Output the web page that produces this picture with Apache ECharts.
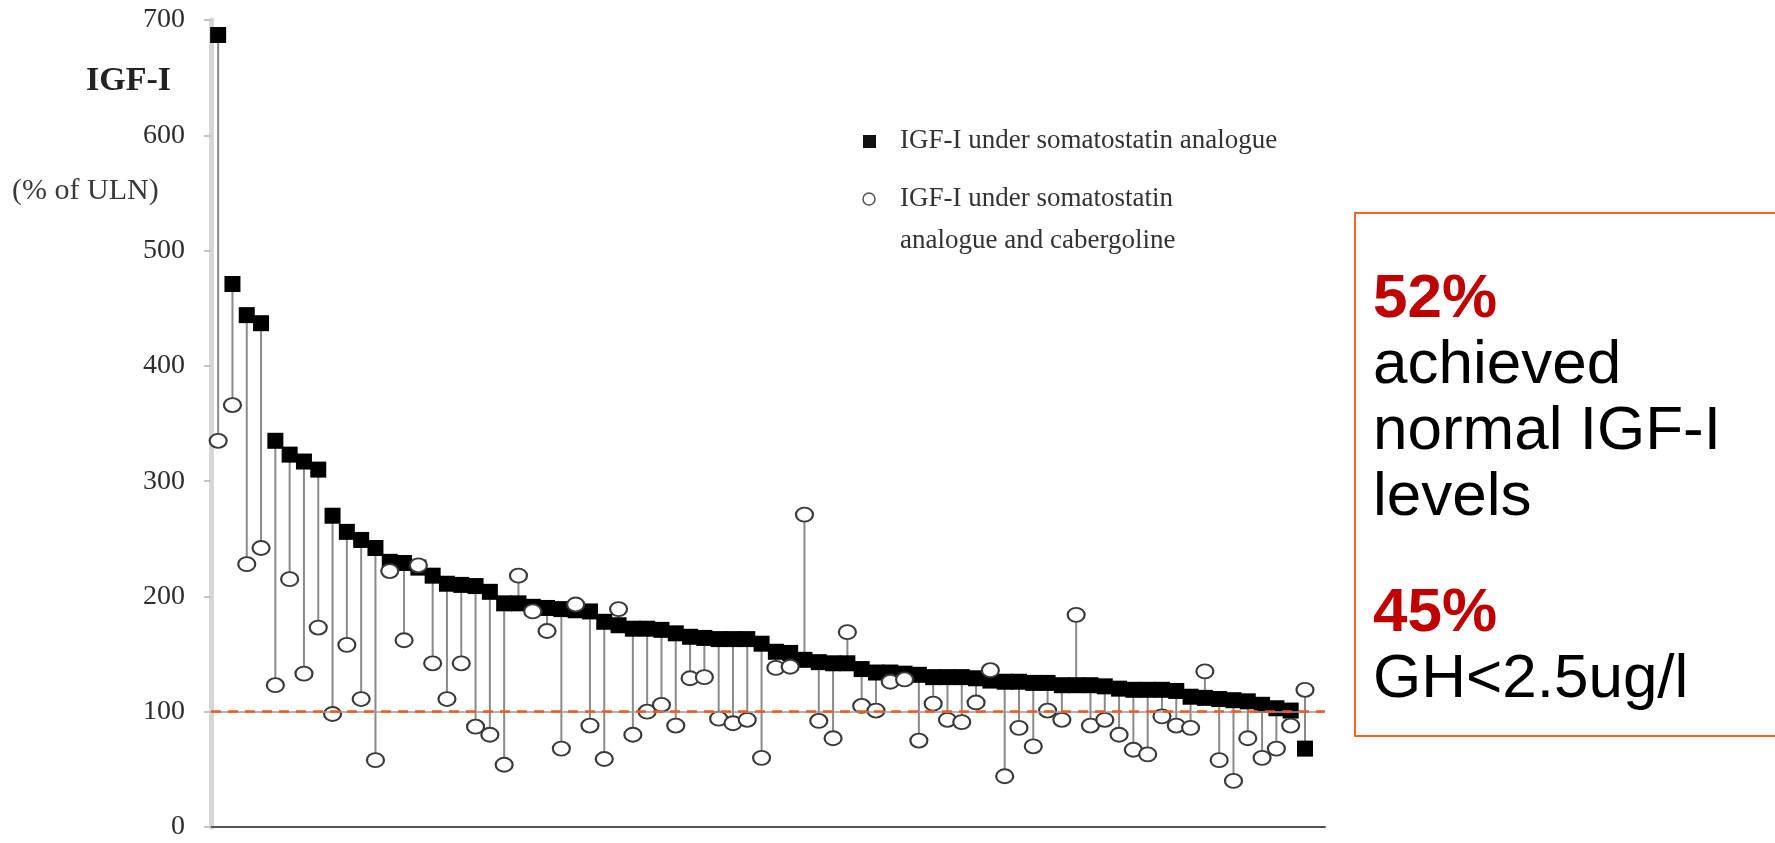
<!DOCTYPE html>
<html>
<head>
<meta charset="utf-8">
<script src="https://cdn.jsdelivr.net/npm/echarts@6/dist/echarts.min.js"></script>
<style>
  html, body { margin: 0; padding: 0; background: #fff; }
  #chart { width: 1775px; height: 843px; }
</style>
</head>
<body>
<div id="chart"></div>
<script>
// one entry per patient, sorted by IGF-I under somatostatin analogue
var patients = [];
for (var n = 1; n <= 77; n++) patients.push(n);

// IGF-I under somatostatin analogue (% of ULN)
var igfSSA = [
  687, 471, 444, 437, 335, 323, 317, 310, 270, 256,
  249, 242, 230, 229, 225, 218, 211, 210, 209, 204,
  194, 194, 191, 190, 189, 188, 187, 178, 175, 172,
  172, 171, 168, 165, 164, 163, 163, 163, 159, 152,
  151, 145, 143, 142, 142, 137, 134, 134, 133, 132,
  130, 130, 130, 129, 127, 126, 126, 125, 125, 123,
  123, 123, 122, 120, 119, 119, 119, 118, 113, 112,
  111, 110, 109, 106, 103, 101, 68
];

// IGF-I under somatostatin analogue and cabergoline (% of ULN)
var igfCab = [
  335, 366, 228, 242, 123, 215, 133, 173, 98, 158,
  111, 58, 222, 162, 227, 142, 111, 142, 87, 80,
  54, 218, 187, 170, 68, 193, 88, 59, 189, 80,
  100, 106, 88, 129, 130, 94, 90, 93, 60, 138,
  139, 271, 92, 77, 169, 105, 101, 126, 128, 75,
  107, 93, 91, 108, 136, 44, 86, 70, 101, 93,
  184, 88, 93, 80, 67, 63, 96, 88, 86, 135,
  58, 40, 77, 60, 68, 88, 119
];

var yTicks = [0, 100, 200, 300, 400, 500, 600, 700];
var ulnLimit = 100;

var chart = echarts.init(document.getElementById('chart'));

var stems = patients.map(function (p, i) { return [p, igfSSA[i], igfCab[i]]; });
var ssaPoints = patients.map(function (p, i) { return [p, igfSSA[i]]; });
var cabPoints = patients.map(function (p, i) { return [p, igfCab[i]]; });

var serif = '"Liberation Serif", "Times New Roman", serif';
var sans = '"Liberation Sans", Arial, sans-serif';

var option = {
  animation: false,
  backgroundColor: '#fff',
  grid: { left: 211, right: 450, top: 20, bottom: 16 },
  xAxis: {
    type: 'value',
    min: 0.5,
    max: 78.4,
    axisLine: { show: true, lineStyle: { color: '#555', width: 2 } },
    axisTick: { show: false },
    axisLabel: { show: false },
    splitLine: { show: false }
  },
  yAxis: {
    type: 'value',
    min: yTicks[0],
    max: yTicks[yTicks.length - 1],
    interval: 100,
    axisLine: { show: true, lineStyle: { color: '#d6d6d6', width: 5 } },
    axisTick: { show: true, length: 7, lineStyle: { color: '#c4c4c4', width: 2 } },
    axisLabel: { fontFamily: serif, fontSize: 28, color: '#2e2e2e', margin: 26 },
    splitLine: { show: false }
  },
  series: [
    {
      name: 'change',
      type: 'custom',
      z: 2,
      data: stems,
      renderItem: function (params, api) {
        var a = api.coord([api.value(0), api.value(1)]);
        var b = api.coord([api.value(0), api.value(2)]);
        return {
          type: 'line',
          shape: { x1: a[0], y1: a[1], x2: b[0], y2: b[1] },
          style: { stroke: '#8a8a8a', lineWidth: 2 }
        };
      }
    },
    {
      name: 'IGF-I under somatostatin analogue',
      type: 'scatter',
      z: 3,
      symbol: 'rect',
      symbolSize: 16,
      itemStyle: { color: '#000', opacity: 1 },
      data: ssaPoints,
      markLine: {
        silent: true,
        symbol: 'none',
        label: { show: false },
        z: 5,
        data: [
          { yAxis: ulnLimit, lineStyle: { color: '#9a9a9a', type: 'solid', width: 1.5 } },
          { yAxis: ulnLimit, lineStyle: { color: '#f25a1e', type: [10, 7], width: 2.5 } }
        ]
      }
    },
    {
      name: 'IGF-I under somatostatin analogue and cabergoline',
      type: 'scatter',
      z: 4,
      symbol: 'circle',
      symbolSize: [17, 14],
      itemStyle: { color: '#fff', borderColor: '#3a3a3a', borderWidth: 2, opacity: 1 },
      data: cabPoints
    }
  ],
  graphic: [
    // axis title
    { type: 'text', left: 86, top: 64, style: { text: 'IGF-I', font: 'bold 34px ' + serif, fill: '#222' } },
    { type: 'text', left: 12, top: 176, style: { text: '(% of ULN)', font: '30px ' + serif, fill: '#3a3a3a' } },
    // legend
    { type: 'rect', shape: { x: 863, y: 135, width: 13, height: 13 }, style: { fill: '#111' } },
    { type: 'text', x: 900, y: 141, style: { text: 'IGF-I under somatostatin analogue', font: '27px ' + serif, fill: '#333', verticalAlign: 'middle' } },
    { type: 'circle', shape: { cx: 869, cy: 199, r: 6 }, style: { fill: '#fff', stroke: '#555', lineWidth: 1.5 } },
    { type: 'text', x: 900, y: 199, style: { text: 'IGF-I under somatostatin', font: '27px ' + serif, fill: '#333', verticalAlign: 'middle' } },
    { type: 'text', x: 900, y: 241, style: { text: 'analogue and cabergoline', font: '27px ' + serif, fill: '#333', verticalAlign: 'middle' } },
    // summary box
    { type: 'rect', shape: { x: 1355, y: 213, width: 440, height: 523 }, style: { fill: 'none', stroke: '#f26522', lineWidth: 2 } },
    {
      type: 'text', x: 1373, y: 267,
      style: {
        text: '{r|52%}\n{t|achieved}\n{t|normal IGF-I}\n{t|levels}',
        rich: {
          r: { font: 'bold 62px ' + sans, fill: '#c00000', lineHeight: 66 },
          t: { font: '62px ' + sans, fill: '#000', lineHeight: 66 }
        }
      }
    },
    {
      type: 'text', x: 1373, y: 581,
      style: {
        text: '{r|45%}\n{t|GH<2.5ug/l}',
        rich: {
          r: { font: 'bold 62px ' + sans, fill: '#c00000', lineHeight: 66 },
          t: { font: '62px ' + sans, fill: '#000', lineHeight: 66 }
        }
      }
    }
  ]
};

chart.setOption(option);
</script>
</body>
</html>
